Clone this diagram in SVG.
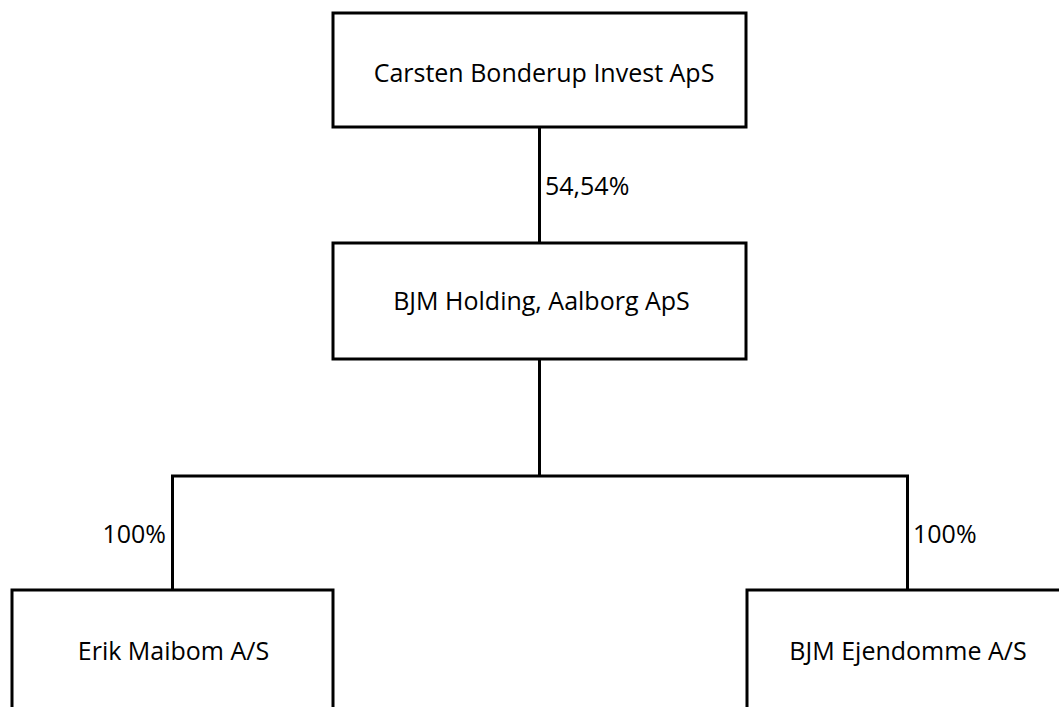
<svg xmlns="http://www.w3.org/2000/svg" width="1059" height="707" viewBox="0 0 1059 707">
<style>
.box{fill:#fff;stroke:#000;stroke-width:3}
.ln{fill:none;stroke:#000;stroke-width:3}
text{font-family:"Open Sans","Liberation Sans",sans-serif;font-size:25px;fill:#000}
.c{text-anchor:middle}
</style>
<rect width="1059" height="707" fill="#fff"/>
<g id="connectors">
<line class="ln" x1="539.5" y1="127" x2="539.5" y2="243"/>
<line class="ln" x1="539.5" y1="359" x2="539.5" y2="476"/>
<polyline class="ln" points="172.5,590 172.5,476 907.5,476 907.5,590"/>
<text x="545" y="195">54,54%</text>
<text x="166" y="543" text-anchor="end">100%</text>
<text x="913" y="543">100%</text>
</g>
<g id="node-top">
<rect class="box" x="333" y="13" width="413" height="114"/>
<text class="c" x="544" y="82">Carsten Bonderup Invest ApS</text>
</g>
<g id="node-mid">
<rect class="box" x="333" y="243" width="413" height="116"/>
<text class="c" x="541.5" y="310">BJM Holding, Aalborg ApS</text>
</g>
<g id="node-left">
<rect class="box" x="12" y="590" width="321" height="125"/>
<text class="c" x="173.5" y="660">Erik Maibom A/S</text>
</g>
<g id="node-right">
<rect class="box" x="747" y="590" width="322" height="125"/>
<text class="c" x="908" y="660">BJM Ejendomme A/S</text>
</g>
</svg>
